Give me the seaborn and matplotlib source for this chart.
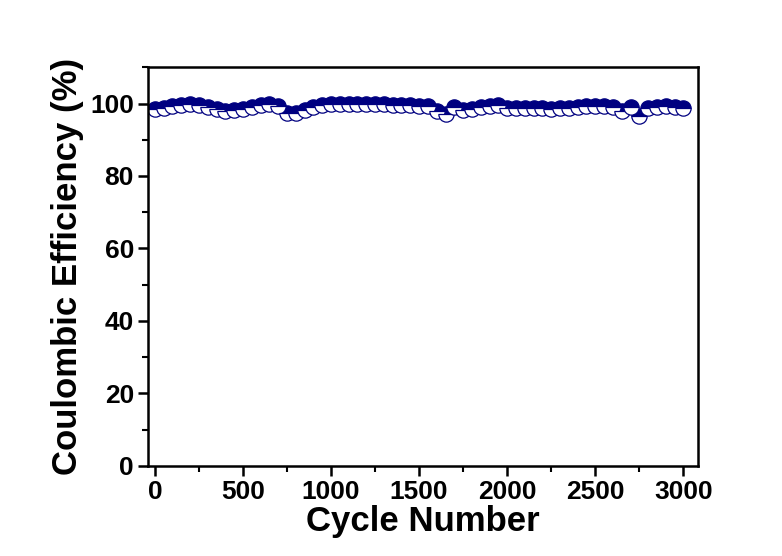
import numpy as np
import pandas as pd
import matplotlib
matplotlib.use("Agg")
import matplotlib.pyplot as plt
from matplotlib.ticker import MultipleLocator
import seaborn as sns

# Coulombic efficiency sampled every 50 cycles
cycles = list(range(0, 3001, 50))
efficiency = [
    98.6, 98.9, 99.2, 99.5, 99.9, 99.6, 99.0, 98.4, 97.9, 98.1,
    98.6, 99.1, 99.6, 100.0, 99.4, 97.3, 97.5, 98.3, 99.0, 99.5,
    99.8, 99.9, 99.9, 99.9, 99.9, 99.9, 99.8, 99.7, 99.6, 99.5,
    99.3, 99.2, 98.0, 97.0, 99.0, 98.2, 98.6, 99.0, 99.4, 99.6,
    98.7, 98.8, 98.8, 98.9, 98.8, 98.6, 98.8, 98.9, 99.0, 99.2,
    99.3, 99.2, 99.0, 97.8, 99.0, 96.5, 98.7, 99.1, 99.2, 99.0,
    98.8,
]
x_ticks = [0, 500, 1000, 1500, 2000, 2500, 3000]
y_ticks = [0, 20, 40, 60, 80, 100]

df = pd.DataFrame({"Cycle Number": cycles, "Coulombic Efficiency (%)": efficiency})

sns.set_style("ticks")
plt.rcParams["font.family"] = ["Liberation Sans", "DejaVu Sans"]
plt.rcParams["font.weight"] = "bold"
plt.rcParams["text.color"] = "black"
plt.rcParams["axes.labelcolor"] = "black"
plt.rcParams["xtick.color"] = "black"
plt.rcParams["ytick.color"] = "black"

fig = plt.figure(figsize=(7.82, 5.56), dpi=100)
ax = fig.add_axes([0.189, 0.162, 0.704, 0.717])

navy = "#000080"
sns.lineplot(
    data=df, x="Cycle Number", y="Coulombic Efficiency (%)", ax=ax,
    linestyle="", marker="o", markersize=11, color=navy,
    markerfacecolor=navy, markerfacecoloralt="white", fillstyle="top",
    markeredgecolor=navy, markeredgewidth=0.9,
)

ax.set_xlim(-40, 3085)
ax.set_ylim(0, 110)
ax.set_xticks(x_ticks)
ax.set_yticks(y_ticks)
ax.xaxis.set_minor_locator(MultipleLocator(250))
ax.yaxis.set_minor_locator(MultipleLocator(10))

ax.tick_params(axis="both", which="major", direction="out", length=7, width=1.8,
               labelsize=19, pad=3, colors="black")
ax.tick_params(axis="both", which="minor", direction="out", length=4, width=1.5,
               colors="black")
for lbl in ax.get_xticklabels() + ax.get_yticklabels():
    lbl.set_fontweight("bold")

for side in ["left", "right", "top", "bottom"]:
    ax.spines[side].set_visible(True)
    ax.spines[side].set_linewidth(1.8)
    ax.spines[side].set_color("black")

ax.set_xlabel("Cycle Number", fontsize=25, fontweight="bold", labelpad=1, color="black")
ax.set_ylabel("Coulombic Efficiency (%)", fontsize=25, fontweight="bold", labelpad=4,
              color="black")

fig.savefig("out.png", dpi=100)
